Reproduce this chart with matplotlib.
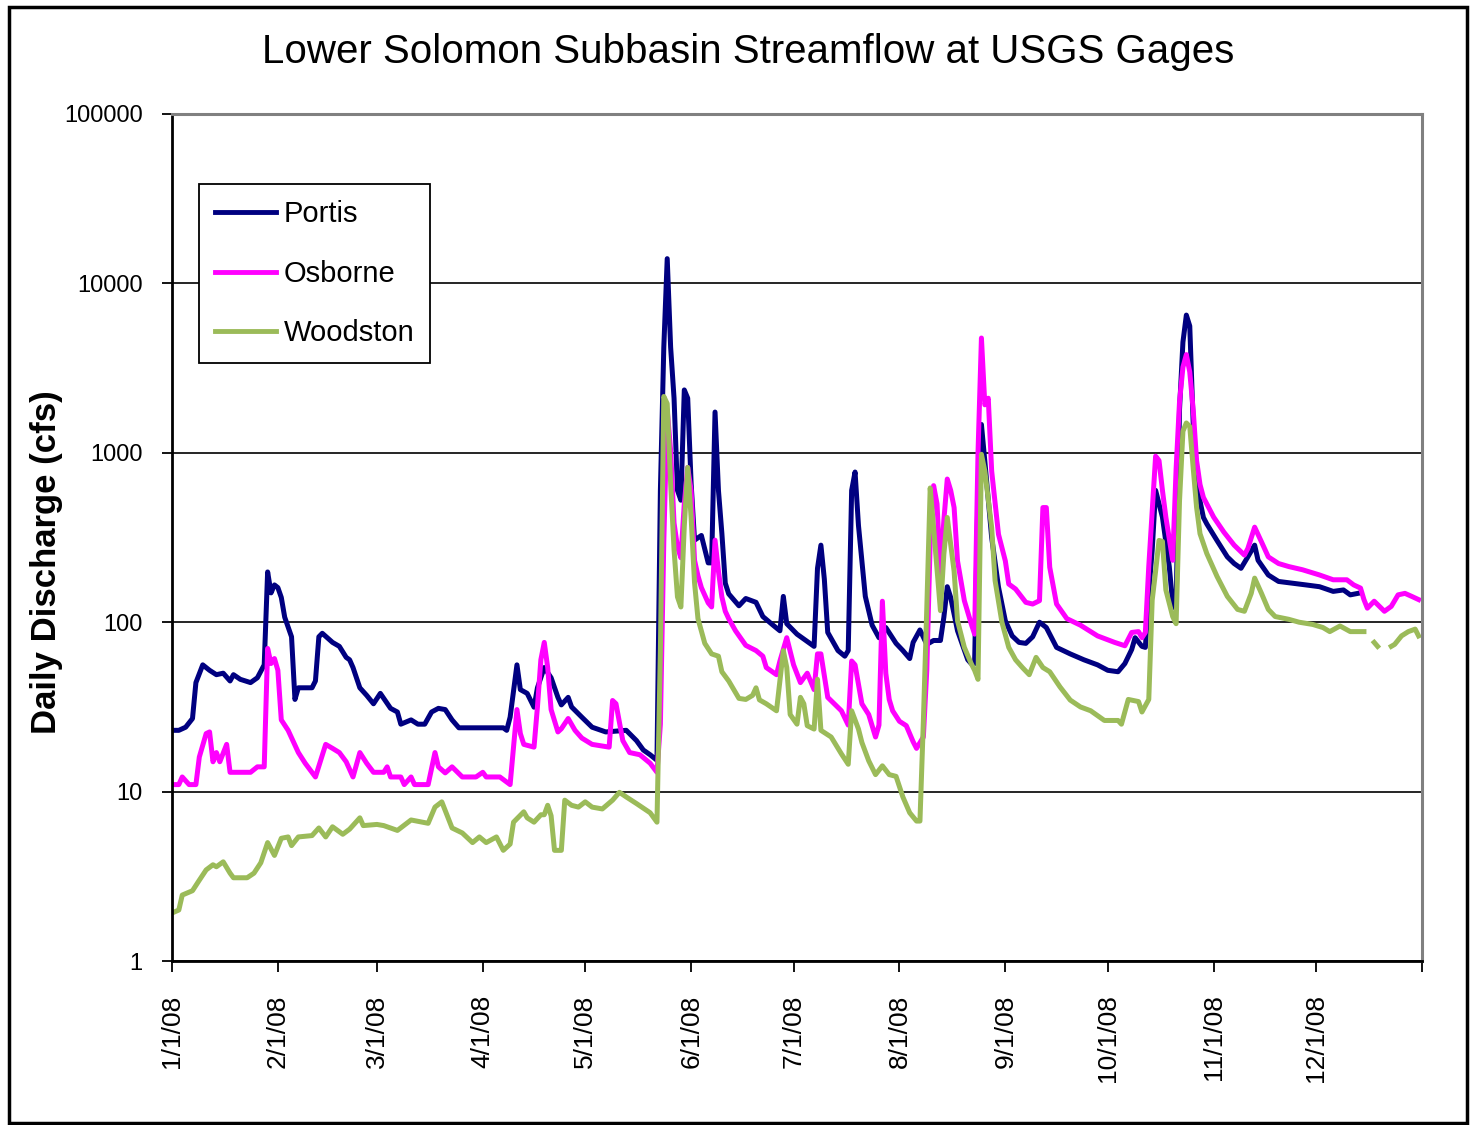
"""
Lower Solomon Subbasin streamflow at USGS gages, 2008 (log scale).
"""
import matplotlib
import numpy as np
import pandas as pd

matplotlib.use("Agg")
import matplotlib.pyplot as plt
from matplotlib.patches import Rectangle

plt.rcParams["font.family"] = ["Liberation Sans", "DejaVu Sans"]

# ------------------------------------
# Data (days since 1/1/08, daily discharge in cfs)
# ------------------------------------
PORTIS_DAY = [0, 2, 4, 6, 7, 9, 11, 13, 15, 17, 18, 20, 23, 25, 27, 28, 29, 30, 31, 32,
              33, 35, 36, 37, 41, 42, 43, 44, 47, 49, 51, 52, 53, 55, 57, 59, 61, 64, 66, 67,
              70, 72, 74, 76, 78, 80, 82, 84, 97, 98, 99, 101, 102, 104, 106, 107, 109, 111,
              113, 114, 116, 117, 120, 123, 127, 133, 136, 138, 140, 142, 143, 144, 145, 146,
              147, 148, 149, 150, 151, 152, 153, 155, 157, 158, 159, 160, 161, 162, 163, 166,
              168, 171, 173, 176, 178, 179, 180, 183, 186, 188, 189, 190, 191, 192, 195, 197,
              198, 199, 200, 201, 203, 205, 207, 209, 212, 214, 216, 217, 219, 221, 223, 225,
              226, 227, 228, 230, 233, 234, 235, 236, 237, 238, 240, 242, 244, 246, 248, 250,
              252, 254, 256, 259, 263, 267, 271, 274, 277, 279, 281, 282, 284, 285, 286, 287,
              288, 289, 290, 292, 293, 294, 295, 296, 297, 298, 299, 300, 302, 303, 306, 309,
              311, 313, 315, 317, 318, 321, 324, 328, 332, 336, 340, 343, 345, 348]
PORTIS_CFS = [23, 23, 24, 27, 44, 56, 52, 49, 50, 45, 49, 46, 44, 47, 56, 198, 149, 166, 160, 140,
              107, 82, 35, 41, 41, 45, 82, 86, 76, 72, 62, 60, 54, 41, 37, 33, 38, 31, 29.5, 25,
              26.5, 25, 25, 29.5, 31, 30.5, 26.5, 23.8, 23.8, 23, 27.5, 56, 40, 38, 31.5, 41, 54, 47,
              36, 32.5, 36, 31.6, 27.5, 24, 22.5, 23, 20, 17.6, 16.5, 15.3, 600, 4200, 14000, 4200,
              2100, 600, 525, 2350, 2100, 660, 305, 325, 224, 224, 1740, 600, 335, 170, 147, 125,
              138, 131, 108, 96, 89, 142, 98, 85, 77, 72, 208, 285, 180, 87, 68, 63,
              68, 600, 770, 372, 142, 96, 81, 93, 75, 68, 61, 76, 90, 74, 78, 78,
              107, 162, 140, 89, 60, 57, 57, 600, 1470, 890, 316, 161, 102, 83, 76, 75,
              82, 100, 93, 71, 65, 60, 56, 52, 51, 57, 69, 81, 72, 71, 150, 266,
              600, 500, 417, 213, 130, 119, 1800, 4500, 6500, 5600, 1500, 650, 415, 380, 303, 243,
              222, 208, 243, 285, 232, 190, 174, 170, 166, 162, 152, 155, 145, 149]

OSBORNE_DAY = [0, 2, 3, 5, 7, 8, 10, 11, 12, 13, 14, 16, 17, 23, 25, 27, 28, 29, 30, 31,
               32, 34, 37, 39, 42, 45, 47, 49, 51, 53, 55, 57, 59, 62, 63, 64, 67, 68, 70, 71,
               75, 77, 78, 80, 82, 85, 89, 91, 92, 96, 99, 101, 102, 103, 106, 107, 108, 109, 110,
               111, 113, 114, 116, 118, 120, 123, 128, 129, 130, 132, 134, 137, 140, 142, 143,
               144, 145, 146, 147, 148, 149, 150, 151, 152, 153, 154, 155, 157, 158, 159, 160,
               161, 162, 163, 165, 168, 171, 173, 174, 177, 178, 180, 182, 184, 186, 188, 189,
               190, 192, 196, 198, 199, 200, 202, 204, 206, 207, 208, 209, 210, 211, 213, 215,
               217, 218, 220, 221, 222, 223, 224, 225, 226, 227, 228, 229, 230, 232, 234, 235,
               236, 237, 238, 239, 240, 242, 244, 245, 247, 250, 252, 254, 255, 256, 257, 259,
               262, 266, 271, 276, 279, 281, 283, 284, 285, 286, 288, 289, 290, 291, 293, 294,
               295, 296, 297, 298, 299, 300, 301, 302, 305, 308, 311, 314, 315, 317, 319, 321,
               324, 327, 331, 336, 340, 344, 346, 348, 349, 350, 352, 355, 357, 359, 361, 363,
               365]
OSBORNE_CFS = [11, 11, 12.2, 11, 11, 16, 22, 22.5, 15, 17, 15, 19, 13, 13, 14, 14, 70, 57, 61, 52,
               26.5, 23, 17, 14.7, 12.2, 19, 18, 17, 15, 12.2, 17, 14.7, 13, 13, 14, 12.2, 12.2, 11,
               12.2, 11, 11, 17, 14, 12.9, 14, 12.2, 12.2, 13, 12.2, 12.2, 11, 30.5, 22, 19, 18.3,
               31.6, 60, 76, 54, 30.5, 22.5, 23.5, 27, 23, 20.7, 19, 18.3, 34.5, 33, 20, 17, 16.5,
               14.7, 13, 25, 300, 1790, 1030, 385, 278, 240, 500, 820, 600, 232, 188, 160, 130,
               123, 305, 200, 141, 116, 105, 89, 73, 68, 63, 54, 49, 59, 81, 56, 44, 50, 40, 65,
               65, 36, 30, 24.7, 59, 56, 33, 28.5, 21, 24.7, 133, 50, 35, 30, 26, 24.5, 19.7, 18,
               21, 52, 300, 640, 500, 193, 400, 700, 600, 475, 230, 134, 98, 85, 1000, 4760,
               1920, 2100, 780, 330, 230, 168, 157, 131, 128, 134, 475, 475, 211, 128, 105, 96,
               83, 76, 72.6, 87, 88, 81, 87, 214, 955, 900, 600, 417, 232, 800, 2000, 3200, 3800,
               3000, 1800, 900, 650, 545, 417, 340, 285, 249, 272, 364, 298, 243, 222, 213, 204,
               190, 178, 178, 166, 159, 136, 121, 133, 116, 124, 145, 148, 142, 136]

# NaN marks the days the Woodston gage has no record
WOODSTON_DAY = [0, 2, 3, 6, 8, 10, 12, 13, 15, 17, 18, 22, 24, 26, 28, 30, 32, 34, 35, 37,
                41, 43, 45, 47, 50, 52, 55, 56, 60, 62, 66, 70, 75, 77, 79, 82, 85, 88, 90, 92,
                95, 97, 99, 100, 103, 104, 106, 108, 109, 110, 111, 112, 114, 115, 117, 119,
                121, 123, 126, 129, 131, 133, 136, 140, 142, 143, 144, 145, 146, 147, 148, 149,
                150, 151, 152, 153, 154, 156, 158, 160, 161, 163, 166, 168, 170, 171, 172, 174,
                177, 179, 180, 181, 183, 184, 185, 186, 188, 189, 190, 193, 195, 196, 198, 199,
                201, 202, 204, 206, 208, 210, 212, 214, 216, 218, 219, 220, 221, 222, 223, 225,
                226, 227, 229, 230, 232, 234, 235, 236, 237, 238, 240, 241, 243, 245, 247, 249,
                251, 253, 255, 257, 260, 263, 266, 269, 273, 277, 278, 280, 283, 284, 286, 287,
                288, 289, 290, 291, 293, 294, 295, 296, 297, 298, 299, 300, 301, 303, 306, 309,
                312, 314, 316, 317, 319, 321, 323, 327, 330, 334, 337, 339, 342, 345, 349, 350,
                352, 353, 355, 357, 358, 360, 362, 364, 365]
WOODSTON_CFS = [1.92, 2.0, 2.45, 2.6, 3.0, 3.45, 3.7, 3.6, 3.85, 3.3, 3.1, 3.1, 3.3, 3.8, 5.0, 4.2,
                5.3, 5.4, 4.8, 5.4, 5.5, 6.1, 5.4, 6.2, 5.6, 6.0, 7.0, 6.3, 6.4, 6.3, 5.9, 6.8, 6.5,
                8.1, 8.7, 6.1, 5.7, 5.0, 5.4, 5.0, 5.4, 4.5, 4.9, 6.6, 7.6, 7.0, 6.6, 7.3, 7.3, 8.3,
                7.2, 4.5, 4.5, 8.9, 8.3, 8.1, 8.7, 8.1, 7.9, 8.9, 9.9, 9.3, 8.5, 7.5, 6.6, 68,
                2150, 1950, 660, 268, 141, 123, 370, 820, 415, 171, 105, 75, 65, 63, 51, 45, 35.5,
                35, 37, 41, 34.8, 33, 30, 68, 54, 28.5, 25, 36, 33, 24.5, 23.4, 46, 23, 21, 18,
                16.7, 14.5, 30, 23.4, 19.5, 15.2, 12.6, 14.2, 12.6, 12.3, 9.3, 7.5, 6.7, 6.7, 26,
                120, 620, 361, 117, 252, 415, 200, 102, 71, 57, 52, 46, 980, 780, 361, 176, 100,
                71, 60, 54, 49, 62, 54, 51, 41.5, 34.7, 31.6, 30, 26.3, 26.3, 25, 35, 34, 29.5, 35,
                135, 200, 304, 300, 155, 108, 98, 520, 1340, 1500, 1430, 817, 476, 333, 254, 186,
                142, 119, 116, 148, 182, 148, 119, 108, 104, 100, 97, 93, 88, 95, 88, 88, np.nan,
                76, 72, np.nan, 72, 74, 83, 88, 91, 83]

SERIES = [("Portis", PORTIS_DAY, PORTIS_CFS, "#000080"),
          ("Osborne", OSBORNE_DAY, OSBORNE_CFS, "#FF00FF"),
          ("Woodston", WOODSTON_DAY, WOODSTON_CFS, "#9BBB59")]

START = pd.Timestamp("2008-01-01")
MONTH_TICKS = pd.date_range("2008-01-01", "2009-01-01", freq="MS")
MONTH_LABELS = ["1/1/08", "2/1/08", "3/1/08", "4/1/08", "5/1/08", "6/1/08",
                "7/1/08", "8/1/08", "9/1/08", "10/1/08", "11/1/08", "12/1/08", ""]
Y_TICKS = [1, 10, 100, 1000, 10000, 100000]

# ------------------------------------
# Figure
# ------------------------------------
W, H = 1470, 1125
fig = plt.figure(figsize=(W / 100, H / 100), dpi=100)
ax = fig.add_axes([172 / W, 1 - 961 / H, (1422 - 172) / W, (961 - 114) / H])

for name, day, cfs, color in SERIES:
    dates = START + pd.to_timedelta(day, unit="D")
    ax.plot(dates, cfs, color=color, lw=3.6, label=name, solid_joinstyle="round")

ax.set_yscale("log")
ax.set_ylim(1, 100000)
ax.set_xlim(MONTH_TICKS[0], MONTH_TICKS[-1])
ax.set_yticks(Y_TICKS)
ax.set_yticklabels([str(v) for v in Y_TICKS])
ax.minorticks_off()
ax.set_xticks(MONTH_TICKS)
ax.set_xticklabels(MONTH_LABELS, rotation=90)
ax.tick_params(axis="y", length=7, width=1.3, pad=14, labelsize=17, colors="black")
ax.tick_params(axis="x", length=8, width=1.3, pad=16, labelsize=19, colors="black")
ax.grid(axis="y", color="black", lw=1.2)
ax.set_axisbelow(True)

for side in ("left", "bottom"):
    ax.spines[side].set_color("black")
    ax.spines[side].set_linewidth(2)
for side in ("top", "right"):
    ax.spines[side].set_color("#808080")
    ax.spines[side].set_linewidth(2.2)

leg = ax.legend(loc="upper left", bbox_to_anchor=(0.0216, 0.917), borderaxespad=0,
                fontsize=21, handlelength=2.1, handletextpad=0.25, labelspacing=1.08,
                borderpad=0.55, fancybox=False, framealpha=1, edgecolor="black")
leg.get_frame().set_linewidth(1.3)
for line in leg.get_lines():
    line.set_linewidth(3.5)

fig.text(748 / W, 1 - 52 / H, "Lower Solomon Subbasin Streamflow at USGS Gages",
         ha="center", va="center", fontsize=29)
fig.text(47 / W, 1 - 562 / H, "Daily Discharge (cfs)", rotation=90,
         ha="center", va="center", fontsize=25, fontweight="bold")

# outer chart border
fig.add_artist(Rectangle((9 / W, 2 / H), (1467 - 9) / W, (1118 - 2) / H,
                         transform=fig.transFigure, fill=False, ec="black", lw=2.5))

fig.savefig("out.png", dpi=100)
